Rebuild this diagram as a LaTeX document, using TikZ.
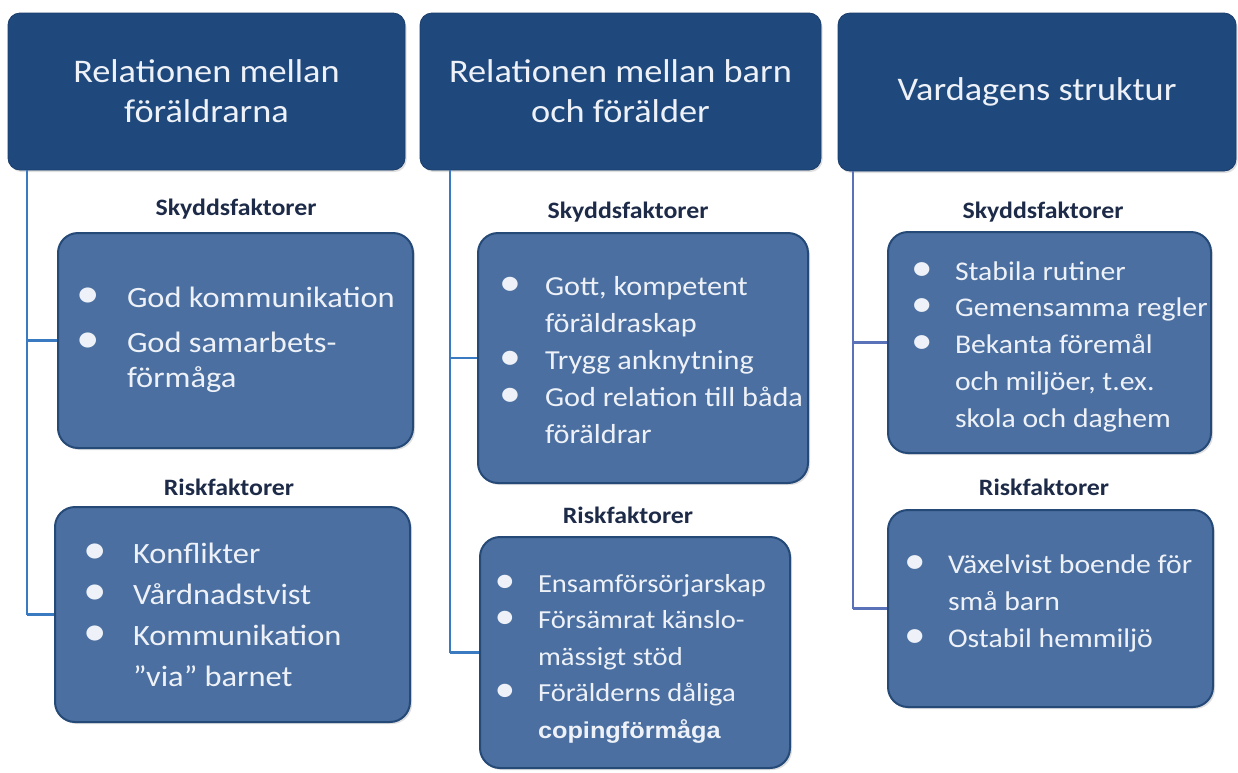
\documentclass[tikz,border=0pt]{standalone}
\usepackage{fontspec}
\setmainfont{Carlito}[FakeStretch=1.1]
\newfontfamily\arialfont{Liberation Sans}[FakeStretch=1.1]
\usetikzlibrary{shadows,calc}
\definecolor{hdrblue}{HTML}{1F497D}
\definecolor{hdredge}{HTML}{1A3D6A}
\definecolor{boxblue}{HTML}{4A6FA0}
\definecolor{boxedge}{HTML}{264A78}
\definecolor{lineA}{HTML}{3A7AC0}
\definecolor{lineB}{HTML}{5A72B8}
\definecolor{lbl}{HTML}{1E2B48}
\definecolor{txt}{HTML}{EEF2F8}
\newlength\bd
\newcommand\bu{\makebox[0pt]{\scalebox{1.45}{\textbullet}}\hspace{\bd}}
\newcommand\cont{\hspace{\bd}}
\tikzset{
  hdr/.style={draw=hdredge, line width=0.8pt, fill=hdrblue, rounded corners=12pt,
    inner sep=0pt, text=txt, font=\fontsize{33}{40}\selectfont, align=center,
    drop shadow={shadow xshift=1.5pt, shadow yshift=-2pt, opacity=0.25}},
  factorbox/.style={draw=boxedge, line width=2pt, fill=boxblue, rounded corners=20pt,
    inner sep=0pt, drop shadow={shadow xshift=2pt, shadow yshift=-2pt, opacity=0.25}},
  lab/.style={font=\bfseries\fontsize{23.5}{28}\selectfont, text=lbl, anchor=base, inner sep=0pt},
  lst/.style={anchor=base west, inner sep=0pt, text=txt},
  conn/.style={draw=lineA, line width=2pt},
  connb/.style={draw=lineB, line width=2pt},
  branch/.style={line width=2.6pt},
}
\begin{document}
\begin{tikzpicture}[x=1pt,y=-1pt]
\useasboundingbox[fill=white] (0,0) rectangle (1238,772);

% headers
\node[hdr, minimum width=397pt, minimum height=157pt] (h1) at (206.5,91.5) {Relationen mellan\\föräldrarna};
\node[hdr, minimum width=401pt, minimum height=157pt] (h2) at (620.5,91.5) {Relationen mellan barn\\och förälder};
\node[hdr, minimum width=398pt, minimum height=158pt] (h3) at (1037,92) {Vardagens struktur};

% connector start points
\coordinate (t1) at ($(h1.south west)+(19,0)$);
\coordinate (t2) at ($(h2.south west)+(30,0)$);
\coordinate (t3) at ($(h3.south west)+(15,0)$);

% box placeholders
\path
  (235.5,340.5) coordinate (p11)
  (232.5,614.5) coordinate (p12)
  (643,358) coordinate (p21)
  (635,652.5) coordinate (p22)
  (1049.5,342.5) coordinate (p31)
  (1050.5,608.5) coordinate (p32);

\path (p11) node[minimum width=355pt, minimum height=215pt, inner sep=0pt] (b11) {};
\path (p12) node[minimum width=355pt, minimum height=215pt, inner sep=0pt] (b12) {};
\path (p21) node[minimum width=330pt, minimum height=250pt, inner sep=0pt] (b21) {};
\path (p22) node[minimum width=310pt, minimum height=231pt, inner sep=0pt] (b22) {};
\path (p31) node[minimum width=323pt, minimum height=221pt, inner sep=0pt] (b31) {};
\path (p32) node[minimum width=325pt, minimum height=197pt, inner sep=0pt] (b32) {};

% connectors
\draw[conn] (t1) -- (t1 |- b12.west);
\draw[conn, branch] (t1 |- b12.west) -- (b12.west);
\draw[conn, branch] (t1 |- b11.west) -- (b11.west);
\draw[conn] (t2) -- (t2 |- b22.west);
\draw[conn, branch] (t2 |- b22.west) -- (b22.west);
\draw[conn, branch] (t2 |- b21.west) -- (b21.west);
\draw[connb] (t3) -- (t3 |- b32.west);
\draw[connb, branch] (t3 |- b32.west) -- (b32.west);
\draw[connb, branch] (t3 |- b31.west) -- (b31.west);

% visible boxes on top
\node[factorbox, minimum width=355pt, minimum height=215pt] (f11) at (b11) {};
\node[factorbox, minimum width=355pt, minimum height=215pt] (f12) at (b12) {};
\node[factorbox, minimum width=330pt, minimum height=250pt] (f21) at (b21) {};
\node[factorbox, minimum width=310pt, minimum height=231pt] (f22) at (b22) {};
\node[factorbox, minimum width=323pt, minimum height=221pt] (f31) at (b31) {};
\node[factorbox, minimum width=325pt, minimum height=197pt] (f32) at (b32) {};

% labels
\node[lab] (s1) at (236,215) {Skyddsfaktorer};
\node[lab] (r1) at (229,495) {Riskfaktorer};
\node[lab] (s2) at (628,218) {Skyddsfaktorer};
\node[lab] (r2) at (628,523) {Riskfaktorer};
\node[lab] (s3) at (1043,218) {Skyddsfaktorer};
\node[lab] (r3) at (1044,495) {Riskfaktorer};

% lists
\node[lst, font=\fontsize{29.5}{35}\selectfont] (l11) at ($(b11.west)+(30,-33.5)$)
  {\setlength\bd{39pt}\begin{tabular}[t]{@{}l@{}}
   \bu God kommunikation\\[10pt]
   \bu God samarbets-\\
   \cont förmåga
  \end{tabular}};
\node[lst, font=\fontsize{29.5}{41}\selectfont] (l12) at ($(b12.west)+(40,-51.5)$)
  {\setlength\bd{38pt}\begin{tabular}[t]{@{}l@{}}
   \bu Konflikter\\
   \bu Vårdnadstvist\\
   \bu Kommunikation\\
   \cont ”via” barnet
  \end{tabular}};
\node[lst, font=\fontsize{27.5}{37}\selectfont] (l21) at ($(b21.west)+(32,-63)$)
  {\setlength\bd{35pt}\begin{tabular}[t]{@{}l@{}}
   \bu Gott, kompetent\\
   \cont föräldraskap\\
   \bu Trygg anknytning\\
   \bu God relation till båda\\
   \cont föräldrar
  \end{tabular}};
\node[lst, font=\fontsize{26}{36.5}\selectfont] (l22) at ($(b22.west)+(25,-60.5)$)
  {\setlength\bd{33pt}\begin{tabular}[t]{@{}l@{}}
   \bu Ensamförsörjarskap\\
   \bu Försämrat känslo-\\
   \cont mässigt stöd\\
   \bu Förälderns dåliga\\
   \cont {\arialfont\bfseries\fontsize{23}{30}\selectfont copingförmåga}
  \end{tabular}};
\node[lst, font=\fontsize{27}{36.8}\selectfont] (l31) at ($(b31.west)+(34,-62.5)$)
  {\setlength\bd{33pt}\begin{tabular}[t]{@{}l@{}}
   \bu Stabila rutiner\\
   \bu Gemensamma regler\\
   \bu Bekanta föremål\\
   \cont och miljöer, t.ex.\\
   \cont skola och daghem
  \end{tabular}};
\node[lst, font=\fontsize{27}{37}\selectfont] (l32) at ($(b32.west)+(27,-35.5)$)
  {\setlength\bd{33pt}\begin{tabular}[t]{@{}l@{}}
   \bu Växelvist boende för\\
   \cont små barn\\
   \bu Ostabil hemmiljö
  \end{tabular}};
\end{tikzpicture}
\end{document}
